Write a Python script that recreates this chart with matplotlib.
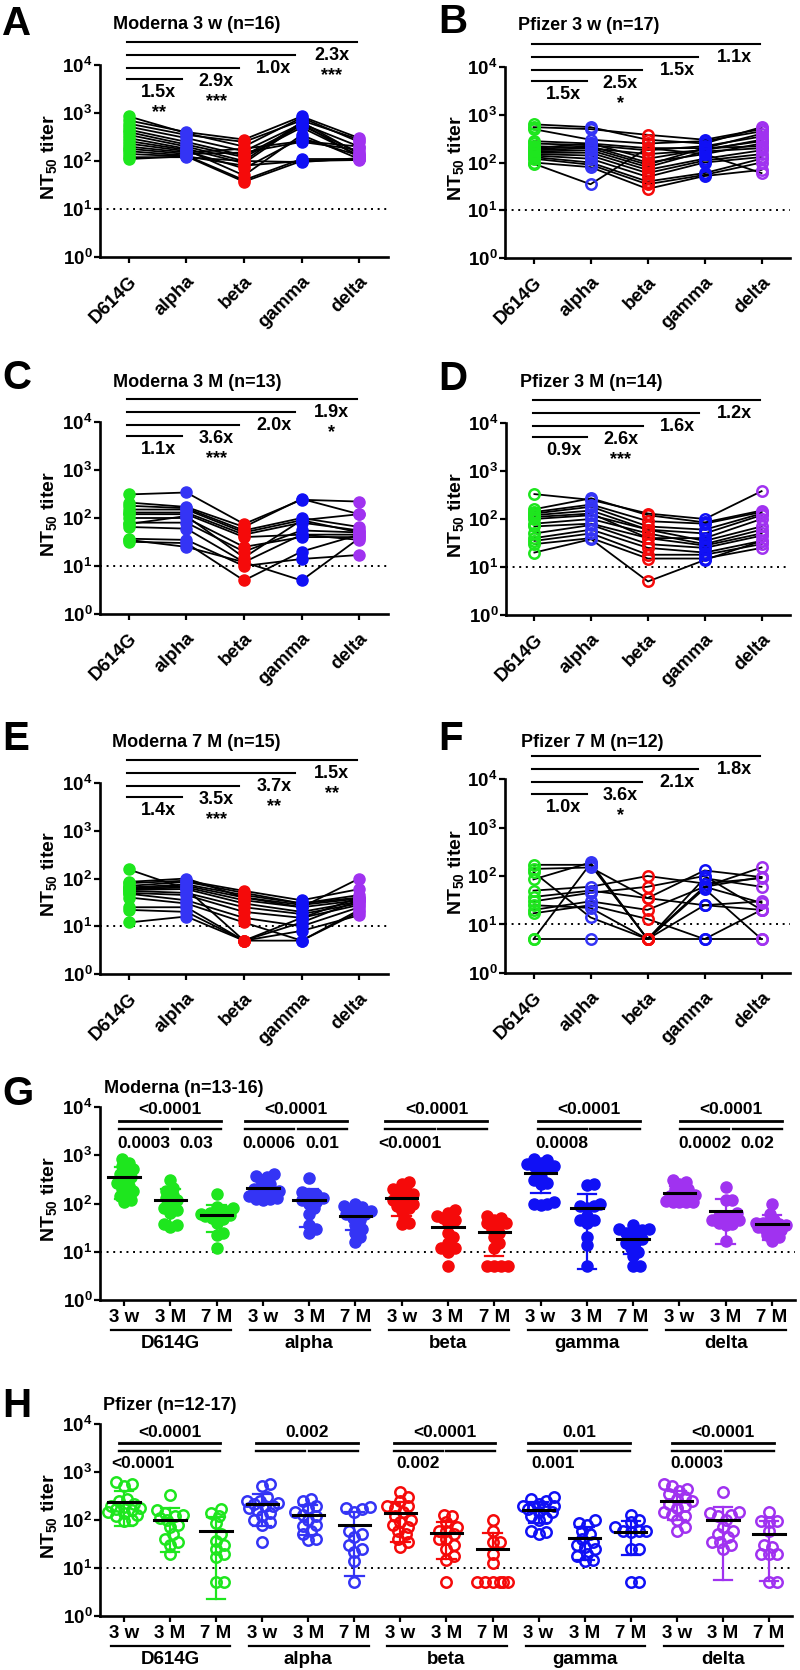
import numpy as np
import matplotlib
matplotlib.use('Agg')
import matplotlib.pyplot as plt
from matplotlib.ticker import NullLocator

plt.rcParams['font.family'] = ['Liberation Sans', 'DejaVu Sans']
plt.rcParams['font.weight'] = 'bold'
plt.rcParams['mathtext.fontset'] = 'custom'
plt.rcParams['mathtext.rm'] = 'Liberation Sans:bold'
plt.rcParams['mathtext.it'] = 'Liberation Sans:bold'
plt.rcParams['mathtext.bf'] = 'Liberation Sans:bold'

variants = ['D614G', 'alpha', 'beta', 'gamma', 'delta']
times = ['3 w', '3 M', '7 M']
colors = ['#1ee61e', '#3434f5', '#f50a0a', '#1010f5', '#a032f0']

# one row per subject: D614G, alpha, beta, gamma, delta
moderna_3w = [
    [850, 380, 200, 800, 250], [700, 400, 280, 850, 300], [600, 350, 250, 700, 280],
    [520, 300, 160, 600, 200], [450, 250, 130, 550, 150], [400, 220, 120, 500, 130],
    [350, 200, 100, 650, 140], [300, 180, 90, 600, 120], [260, 170, 50, 350, 110],
    [230, 160, 70, 300, 130], [200, 150, 180, 260, 200], [180, 140, 150, 250, 170],
    [160, 130, 40, 110, 110], [140, 125, 37, 100, 105], [120, 120, 100, 95, 115],
    [110, 125, 80, 100, 110],
]
pfizer_3w = [
    [630, 550, 300, 250, 550], [550, 500, 380, 300, 500], [500, 300, 250, 280, 450],
    [280, 250, 200, 200, 400], [250, 230, 180, 220, 350], [220, 200, 150, 180, 300],
    [200, 250, 120, 190, 280], [190, 220, 100, 150, 250], [180, 200, 90, 200, 220],
    [170, 180, 80, 170, 200], [160, 160, 70, 120, 180], [150, 140, 60, 110, 150],
    [140, 120, 50, 100, 130], [130, 100, 40, 60, 120], [120, 90, 35, 55, 100],
    [100, 80, 28, 52, 70], [95, 35, 200, 150, 60],
]
moderna_3m = [
    [310, 340, 75, 240, 220], [210, 170, 65, 250, 120], [180, 160, 55, 100, 65],
    [150, 150, 50, 90, 50], [130, 130, 45, 80, 55], [120, 120, 40, 45, 45],
    [100, 100, 25, 40, 40], [80, 80, 20, 55, 50], [75, 110, 15, 90, 120],
    [65, 60, 12, 45, 35], [37, 35, 10, 14, 17], [32, 30, 5, 20, 45],
    [35, 25, 12, 5, 38],
]
pfizer_3m = [
    [330, 250, 130, 100, 380], [160, 270, 120, 85, 150], [140, 200, 90, 80, 140],
    [130, 180, 70, 60, 130], [120, 150, 60, 50, 120], [110, 130, 40, 40, 100],
    [100, 120, 60, 35, 70], [80, 100, 50, 30, 60], [70, 80, 40, 28, 50],
    [50, 75, 30, 25, 45], [40, 60, 25, 20, 35], [35, 50, 18, 18, 30],
    [30, 40, 15, 15, 25], [20, 38, 5, 14, 35],
]
moderna_7m = [
    [155, 60, 5, 15, 40], [85, 100, 40, 25, 100], [80, 90, 55, 35, 60],
    [70, 85, 50, 30, 45], [65, 75, 45, 30, 40], [62, 70, 40, 28, 38],
    [60, 65, 35, 25, 35], [58, 60, 30, 20, 33], [55, 50, 25, 18, 30],
    [50, 45, 20, 15, 28], [48, 35, 15, 10, 25], [40, 30, 12, 5, 20],
    [25, 25, 5, 12, 35], [22, 20, 5, 8, 17], [12, 16, 5, 5, 22],
]
pfizer_7m = [
    [170, 170, 5, 60, 150], [140, 150, 35, 130, 95], [85, 190, 5, 90, 60],
    [50, 60, 100, 70, 90], [37, 50, 35, 25, 30], [30, 45, 60, 100, 20],
    [20, 30, 20, 60, 28], [17, 25, 13, 5, 20], [5, 180, 5, 55, 5],
    [120, 14, 5, 60, 95], [25, 22, 5, 25, 20], [5, 5, 5, 5, 5],
]

fold_A = ['1.5x', '2.9x', '1.0x', '2.3x']; star_A = ['**', '***', '', '***']
fold_B = ['1.5x', '2.5x', '1.5x', '1.1x']; star_B = ['', '*', '', '']
fold_C = ['1.1x', '3.6x', '2.0x', '1.9x']; star_C = ['', '***', '', '*']
fold_D = ['0.9x', '2.6x', '1.6x', '1.2x']; star_D = ['', '***', '', '']
fold_E = ['1.4x', '3.5x', '3.7x', '1.5x']; star_E = ['', '***', '**', '**']
fold_F = ['1.0x', '3.6x', '2.1x', '1.8x']; star_F = ['', '*', '', '']

p_top_G = ['<0.0001', '<0.0001', '<0.0001', '<0.0001', '<0.0001']
p_low_G = [('0.0003', '0.03'), ('0.0006', '0.01'), ('<0.0001', ''), ('0.0008', ''), ('0.0002', '0.02')]
p_top_H = ['<0.0001', '0.002', '<0.0001', '0.01', '<0.0001']
p_low_H = [('<0.0001', ''), ('', ''), ('0.002', ''), ('0.001', ''), ('0.0003', '')]

W, H = 800, 1670
fig = plt.figure(figsize=(W / 100, H / 100), dpi=100)


def px_axes(l, r, t, b):
    return fig.add_axes([l / W, 1 - b / H, (r - l) / W, (b - t) / H])


def base_style(ax):
    ax.set_yscale('log')
    ax.set_ylim(1, 1e4)
    ax.set_yticks([1, 10, 100, 1000, 10000])
    ax.yaxis.set_minor_locator(NullLocator())
    for s in ['top', 'right']:
        ax.spines[s].set_visible(False)
    for s in ['left', 'bottom']:
        ax.spines[s].set_linewidth(1.9)
    ax.tick_params(axis='both', direction='out', length=4.5, width=1.6)
    ax.tick_params(axis='y', labelsize=13.5, pad=1)
    ax.axhline(10, ls=(0, (1, 2.4)), color='black', lw=1.4, zorder=1)


def label_panel(ax, letter, lx, lbase, title, tx, tbase, ylab_x):
    fig.text(lx / W, 1 - lbase / H, letter, fontsize=29, fontweight='bold', va='baseline')
    fig.text(tx / W, 1 - tbase / H, title, fontsize=13, fontweight='bold', va='baseline')
    bb = ax.get_position()
    fig.text(ylab_x / W, (bb.y0 + bb.y1) / 2 + 4 / H, 'NT$_{50}$ titer', rotation=90,
             fontsize=14, fontweight='bold', ha='center', va='center')


def paired(ax, rows, hollow, folds, stars):
    d = np.array(rows, dtype=float)
    x = np.arange(5)
    for r in d:
        ax.plot(x, r, color='black', lw=1.3, zorder=2, clip_on=False)
    for j in range(5):
        c = colors[j]
        if hollow:
            ax.plot(np.full(len(d), j), d[:, j], 'o', ms=7.5, mfc='none', mec=c, mew=1.8,
                    zorder=3, clip_on=False)
        else:
            ax.plot(np.full(len(d), j), d[:, j], 'o', ms=8, mfc=c, mec=c, mew=1,
                    zorder=3, clip_on=False)
    ax.set_xlim(-0.5, 4.5)
    base_style(ax)
    ax.set_xticks(x)
    ax.set_xticklabels(variants, rotation=45, ha='right', rotation_mode='anchor',
                       fontsize=13.5, fontweight='bold')
    ax.tick_params(axis='x', pad=7)
    levels = [3.70, 3.94, 4.21, 4.48]
    ends = [0.93, 1.91, 2.89, 3.97]
    for k in range(4):
        ly = levels[k]
        ax.plot([-0.03, ends[k]], [10 ** ly] * 2, color='black', lw=1.5, clip_on=False)
        ax.text(k + 0.52, 10 ** (ly - 0.28), folds[k], ha='center', va='center',
                fontsize=13, fontweight='bold')
        if stars[k]:
            ax.text(k + 0.52, 10 ** (ly - 0.70), stars[k], ha='center', va='center',
                    fontsize=13, fontweight='bold')


def swarm(vals, d=7.0, ux=46.3, uy=48.2, cap=16.0):
    # simple beeswarm in pixel space, limited to +-cap pixels
    y = np.log10(vals) * uy
    xs = np.zeros(len(vals))
    done = []
    steps = [0.0] + [s * m * d * 0.35 for m in range(1, 40) for s in (1, -1)]
    steps = [c for c in steps if abs(c) <= cap]
    for i in np.argsort(y):
        best, best_gap = 0.0, -1.0
        for cand in steps:
            gap = min([np.hypot(cand - xs[j], y[i] - y[j]) for j in done] or [1e9])
            if gap >= d:
                best = cand
                break
            if gap > best_gap:
                best, best_gap = cand, gap
        xs[i] = best
        done.append(i)
    return xs / ux


def grouped(ax, sets, hollow, p_top, p_low, starts, lv, axh):
    for g in range(5):
        c = colors[g]
        for t in range(3):
            vals = np.array(sets[t], dtype=float)[:, g]
            xc = g * 3 + t
            off = swarm(vals, d=6.5 if not hollow else 7.5)
            if hollow:
                ax.plot(xc + off, vals, 'o', ms=7.5, mfc='none', mec=c, mew=1.8, zorder=2)
            else:
                ax.plot(xc + off, vals, 'o', ms=8, mfc=c, mec=c, mew=1, zorder=2)
            m = vals.mean()
            sd = vals.std(ddof=1)
            hi = m + sd
            lo = m - sd if m - sd > 1.05 else m
            ax.plot([xc, xc], [lo, hi], color=c, lw=1.6, zorder=3)
            ax.plot([xc - 0.2, xc + 0.2], [hi, hi], color=c, lw=1.6, zorder=3)
            if m - sd > 1.05:
                ax.plot([xc - 0.2, xc + 0.2], [lo, lo], color=c, lw=1.6, zorder=3)
            ax.plot([xc - 0.34, xc + 0.34], [m, m], color='black', lw=2.2, zorder=4)
    ax.set_xlim(-0.52, 14.5)
    base_style(ax)
    ax.set_xticks(np.arange(15))
    ax.set_xticklabels(times * 5, fontsize=13.5, fontweight='bold')
    ax.tick_params(axis='x', pad=2)
    tr = ax.get_xaxis_transform()
    for g in range(5):
        ax.plot([g * 3 - 0.28, g * 3 + 2.31], [-30 / axh] * 2, transform=tr, color='black',
                lw=1.6, clip_on=False)
        ax.text(g * 3 + 1, -44 / axh, variants[g], transform=tr, ha='center', va='center',
                fontsize=13.5, fontweight='bold')
        s = g * 3 + starts[g]
        long_y, short_y, top_y, low_y = lv
        ax.plot([s, s + 2.2], [10 ** long_y] * 2, color='black', lw=2.0, clip_on=False)
        ax.plot([s, s + 1.06], [10 ** short_y] * 2, color='black', lw=1.7, clip_on=False)
        ax.plot([s + 1.14, s + 2.2], [10 ** short_y] * 2, color='black', lw=1.7, clip_on=False)
        ax.text(s + 1.1, 10 ** top_y, p_top[g], ha='center', va='center', fontsize=12.5,
                fontweight='bold')
        ax.text(s + 0.53, 10 ** low_y, p_low[g][0], ha='center', va='center', fontsize=12.5,
                fontweight='bold')
        ax.text(s + 1.67, 10 ** low_y, p_low[g][1], ha='center', va='center', fontsize=12.5,
                fontweight='bold')


axA = px_axes(100, 388, 65, 257)
paired(axA, moderna_3w, False, fold_A, star_A)
label_panel(axA, 'A', 2, 35, 'Moderna 3 w (n=16)', 113, 29, 49)

axB = px_axes(505, 790, 67, 258)
paired(axB, pfizer_3w, True, fold_B, star_B)
label_panel(axB, 'B', 438, 33, 'Pfizer 3 w (n=17)', 518, 30, 456)

axC = px_axes(100, 388, 422, 614)
paired(axC, moderna_3m, False, fold_C, star_C)
label_panel(axC, 'C', 2, 389, 'Moderna 3 M (n=13)', 113, 387, 49)

axD = px_axes(506, 790, 423, 615)
paired(axD, pfizer_3m, True, fold_D, star_D)
label_panel(axD, 'D', 438, 390, 'Pfizer 3 M (n=14)', 520, 387, 456)

axE = px_axes(100, 388, 783, 974)
paired(axE, moderna_7m, False, fold_E, star_E)
label_panel(axE, 'E', 2, 750, 'Moderna 7 M (n=15)', 112, 747, 49)

axF = px_axes(505, 790, 779, 973)
paired(axF, pfizer_7m, True, fold_F, star_F)
label_panel(axF, 'F', 438, 750, 'Pfizer 7 M (n=12)', 521, 747, 456)

axG = px_axes(100, 795, 1107, 1300)
grouped(axG, [moderna_3w, moderna_3m, moderna_7m], False, p_top_G, p_low_G,
        [-0.11, -0.39, -0.35, -0.06, 0.02], (3.71, 3.54, 3.95, 3.25), 193)
label_panel(axG, 'G', 2, 1105, 'Moderna (n=13-16)', 104, 1093, 49)

axH = px_axes(100, 792, 1424, 1616)
grouped(axH, [pfizer_3w, pfizer_3m, pfizer_7m], True, p_top_H, p_low_H,
        [-0.11, -0.13, -0.14, -0.22, -0.10], (3.60, 3.44, 3.83, 3.17), 192)
label_panel(axH, 'H', 2, 1417, 'Pfizer (n=12-17)', 103, 1410, 49)

fig.savefig('out.png', dpi=100)
